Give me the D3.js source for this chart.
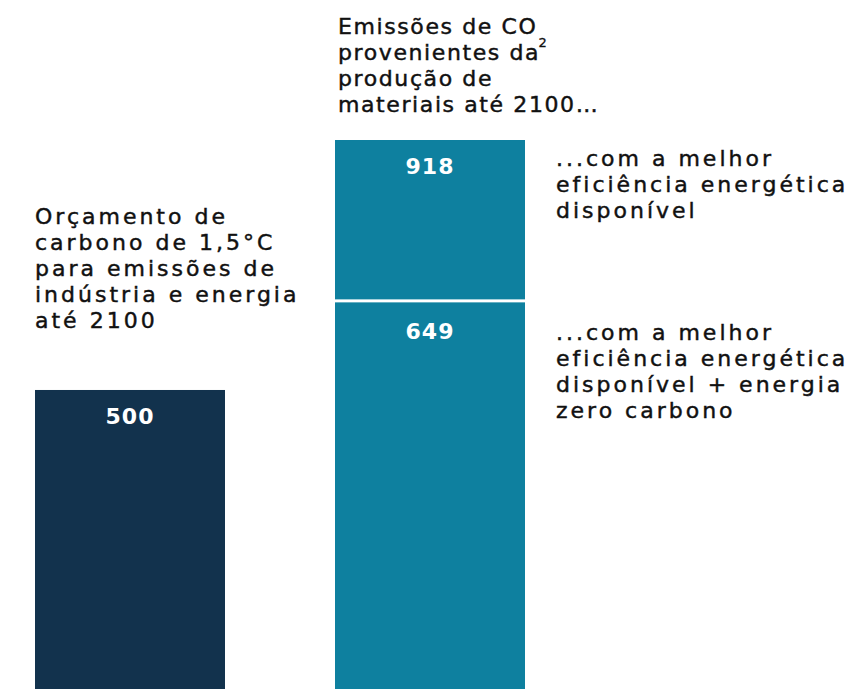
<!DOCTYPE html>
<html>
<head>
<meta charset="utf-8">
<script src="https://cdn.jsdelivr.net/npm/d3@7"></script>
<style>
  body { margin: 0; background: #fff; }
  text { font-family: "DejaVu Sans", sans-serif; }
</style>
</head>
<body>
<div id="chart"></div>
<script>
// carbon budget vs materials emissions

const budget = 500;
const materialsTotal = 918;   // best efficiency
const materialsLow = 649;     // efficiency + zero carbon energy

const budgetLabel = ["Orçamento de", "carbono de 1,5°C", "para emissões de", "indústria e energia", "até 2100"];
const titleLines = ["Emissões de CO", "provenientes da", "produção de", "materiais até 2100…"];
const topNote = ["...com a melhor", "eficiência energética", "disponível"];
const lowNote = ["...com a melhor", "eficiência energética", "disponível + energia", "zero carbono"];

const w = 851, h = 689;
const navy = "#12324d", teal = "#0e809f";

const svg = d3.select("#chart").append("svg")
  .attr("width", w)
  .attr("height", h);

const y = d3.scaleLinear().domain([0, materialsTotal]).range([h, 140]);

// bars
svg.append("rect")
  .attr("x", 35).attr("width", 190)
  .attr("y", y(budget)).attr("height", h - y(budget))
  .attr("fill", navy);

svg.append("rect")
  .attr("x", 335).attr("width", 190)
  .attr("y", y(materialsTotal)).attr("height", y(materialsLow) - y(materialsTotal) - 1.5)
  .attr("fill", teal);

svg.append("rect")
  .attr("x", 335).attr("width", 190)
  .attr("y", y(materialsLow) + 1.5).attr("height", h - y(materialsLow) - 1.5)
  .attr("fill", teal);

// value labels
const vals = [[130, budget, y(budget)], [430, materialsTotal, y(materialsTotal)], [430, materialsLow, y(materialsLow) + 4]];
svg.selectAll(".val").data(vals).enter().append("text")
  .attr("x", d => d[0])
  .attr("y", d => d[2] + 34)
  .attr("text-anchor", "middle")
  .attr("fill", "#fff")
  .attr("font-size", "22px")
  .attr("font-weight", "bold")
  .attr("letter-spacing", "1px")
  .text(d => d[1]);

function block(lines, x0, y0, spacing) {
  const t = svg.append("text")
    .attr("x", x0).attr("y", y0)
    .attr("font-size", "22px")
    .attr("letter-spacing", spacing + "px")
    .attr("fill", "#111")
    .attr("stroke", "#111")
    .attr("stroke-width", 0.45);
  t.selectAll("tspan").data(lines).enter().append("tspan")
    .attr("x", x0)
    .attr("dy", (d, i) => i ? 26 : 0)
    .text(d => d);
  return t;
}

block(budgetLabel, 35, 224, 3);
const title = block(titleLines, 338, 34, 1.6);
block(topNote, 556, 166, 3);
block(lowNote, 556, 340, 3);

// subscript 2 of CO2
const firstLen = title.select("tspan").node().getComputedTextLength();
svg.append("text")
  .attr("x", 338 + firstLen + 1).attr("y", 47)
  .attr("font-size", "13px")
  .attr("fill", "#111")
  .attr("stroke", "#111")
  .attr("stroke-width", 0.3)
  .text("2");
</script>
</body>
</html>
